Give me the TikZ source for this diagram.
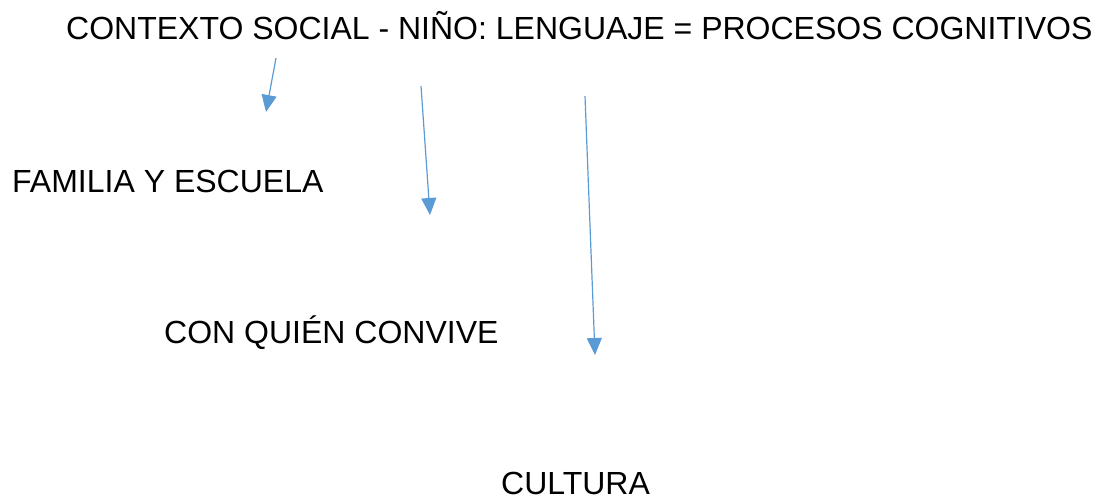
\documentclass[tikz,border=0pt]{standalone}
\usepackage{fontspec}
\setmainfont{Liberation Sans}
\usepackage{xcolor}
\usetikzlibrary{arrows.meta,positioning}
\definecolor{flecha}{RGB}{91,155,213}

\begin{document}
\begin{tikzpicture}[x=1pt, y=-1pt]
        \tikzset{label/.style={anchor=base west, inner sep=0pt, font=\fontsize{32}{36}\selectfont}}
        \tikzset{arr/.style={-{Triangle[length=17pt, width=15pt]}, draw=flecha, line width=1.2pt}}

        \useasboundingbox (0,0) rectangle (1101,499);

        \node [label] (titulo) at (66,39) {CONTEXTO SOCIAL - NIÑO: LENGUAJE = PROCESOS COGNITIVOS};
        \node [label] (familia) at (12,192) {FAMILIA Y ESCUELA};
        \node [label] (quien) at (164,343) {CON QUIÉN CONVIVE};
        \node [label] (cultura) at (501,494) {CULTURA};

        \coordinate (a1) at (276,58);
        \coordinate (b1) at (266,112);
        \coordinate (a2) at (421,86);
        \coordinate (b2) at (430,215);
        \coordinate (a3) at (585,96);
        \coordinate (b3) at (595,355);

        \draw [arr] (a1) -- (b1);
        \draw [arr] (a2) -- (b2);
        \draw [arr] (a3) -- (b3);
    \end{tikzpicture}
\end{document}
